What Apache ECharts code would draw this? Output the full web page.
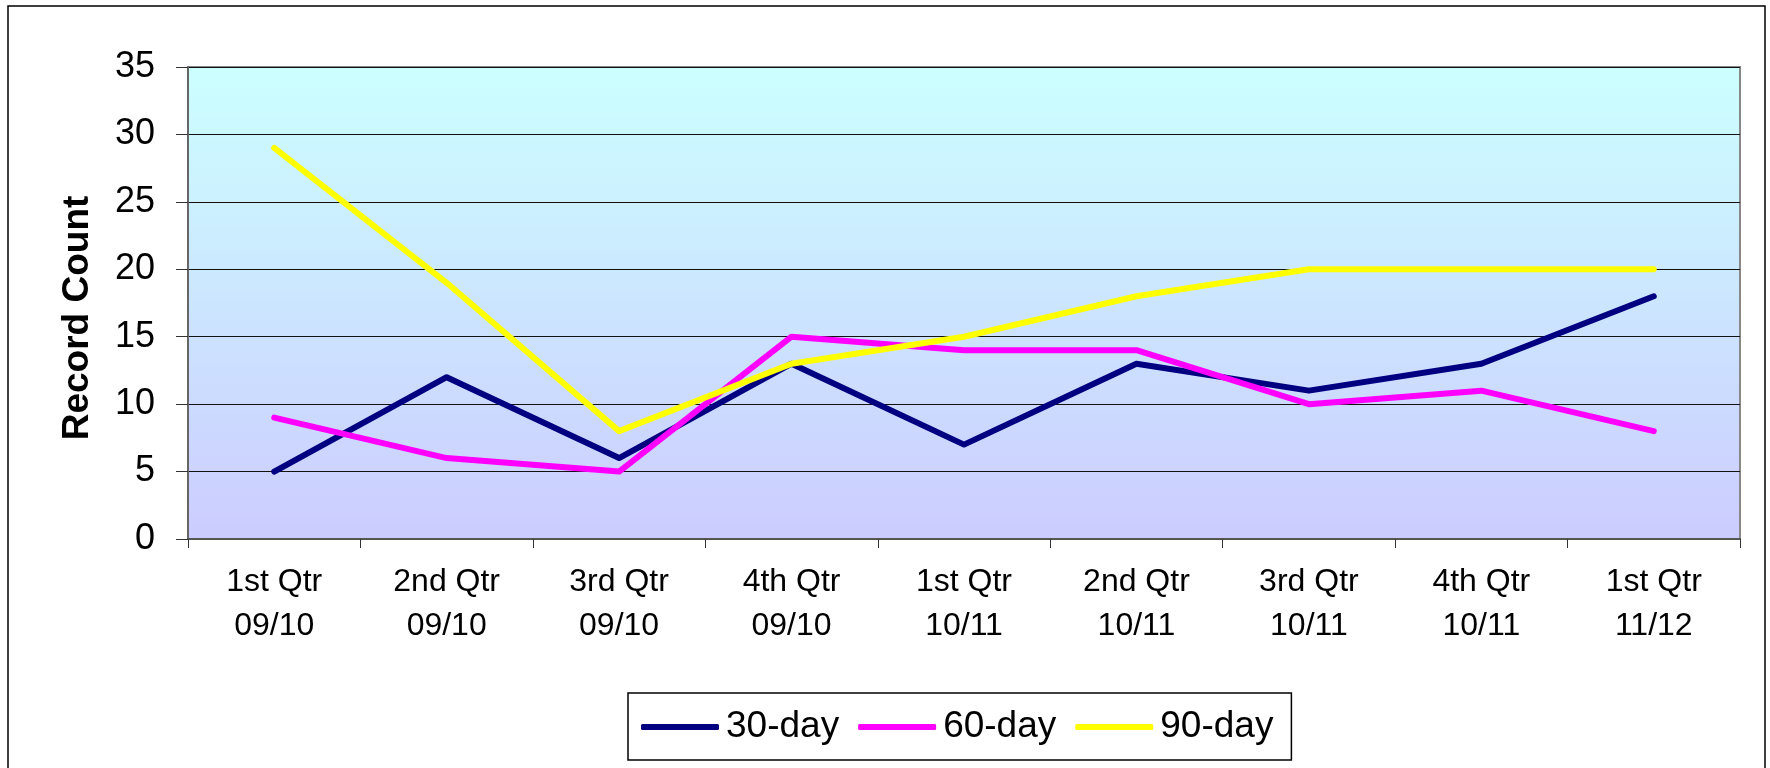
<!DOCTYPE html>
<html>
<head>
<meta charset="utf-8">
<title>Record Count by Quarter</title>
<script src="https://cdn.jsdelivr.net/npm/echarts@6/dist/echarts.min.js"></script>
<style>
  html, body { margin: 0; padding: 0; background: #ffffff; }
  #chart { width: 1770px; height: 768px; }
</style>
</head>
<body>
<div id="chart"></div>
<script>
// Quarter labels (two lines each)
const quarters = [
  '1st Qtr\n09/10', '2nd Qtr\n09/10', '3rd Qtr\n09/10', '4th Qtr\n09/10',
  '1st Qtr\n10/11', '2nd Qtr\n10/11', '3rd Qtr\n10/11', '4th Qtr\n10/11',
  '1st Qtr\n11/12'
];

// Record counts per aging bucket
const day30 = [5, 12, 6, 13, 7, 13, 11, 13, 18];
const day60 = [9, 6, 5, 15, 14, 14, 10, 11, 8];
const day90 = [29, 19, 8, 13, 15, 18, 20, 20, 20];

const seriesNames = ['30-day', '60-day', '90-day'];
const seriesColors = ['#000080', '#FF00FF', '#FFFF00'];

const FONT = '"Liberation Sans", Arial, sans-serif';

const chart = echarts.init(document.getElementById('chart'), null, { renderer: 'canvas' });

function lineSeries(name, data, color) {
  return {
    name: name,
    type: 'line',
    data: data,
    symbol: 'none',
    showSymbol: false,
    smooth: false,
    animation: false,
    lineStyle: { color: color, width: 6, cap: 'round', join: 'round' },
    itemStyle: { color: color },
    emphasis: { disabled: true }
  };
}

chart.setOption({
  animation: false,
  textStyle: { fontFamily: FONT },
  graphic: [{
    type: 'rect',
    silent: true,
    z: -10,
    shape: { x: 8, y: 6, width: 1757, height: 800 },
    style: { fill: 'none', stroke: '#000', lineWidth: 1.5 }
  }],
  grid: {
    left: 188, top: 67, right: 30, bottom: 229,
    show: true,
    borderColor: '#888',
    borderWidth: 2,
    backgroundColor: {
      type: 'linear', x: 0, y: 0, x2: 0, y2: 1,
      colorStops: [
        { offset: 0, color: '#CCFFFF' },
        { offset: 1, color: '#CCCCFF' }
      ]
    }
  },
  legend: {
    data: seriesNames,
    left: 628, top: 693,
    orient: 'horizontal',
    icon: 'roundRect',
    padding: [13, 18, 12, 13],
    itemGap: 19,
    itemWidth: 78,
    itemHeight: 6,
    borderColor: '#000',
    borderWidth: 1.5,
    backgroundColor: '#fff',
    selectedMode: false,
    itemStyle: { borderWidth: 0 },
    textStyle: { fontSize: 37, lineHeight: 42, color: '#000', fontFamily: FONT, padding: [0, 0, 0, 2] }
  },
  xAxis: {
    type: 'category',
    data: quarters,
    boundaryGap: true,
    axisLine: { show: true, lineStyle: { color: '#555', width: 2 } },
    axisTick: { show: true, inside: false, length: 9, alignWithLabel: false, lineStyle: { color: '#333', width: 1 } },
    axisLabel: { fontSize: 32, color: '#000', lineHeight: 44, margin: 21, fontFamily: FONT, interval: 0 },
    splitLine: { show: false }
  },
  yAxis: {
    type: 'value',
    min: 0, max: 35, interval: 5,
    name: 'Record Count',
    nameLocation: 'middle',
    nameGap: 92,
    nameRotate: 90,
    nameTextStyle: { fontSize: 37, fontWeight: 'bold', color: '#000', fontFamily: FONT, padding: [0, 30, 0, 0] },
    axisLine: { show: true, lineStyle: { color: '#666', width: 2 } },
    axisTick: { show: true, inside: false, length: 12, lineStyle: { color: '#333', width: 1 } },
    axisLabel: { fontSize: 36, color: '#000', margin: 33, fontFamily: FONT },
    splitLine: { show: true, lineStyle: { color: '#111', width: 1 } }
  },
  series: [
    lineSeries(seriesNames[0], day30, seriesColors[0]),
    lineSeries(seriesNames[1], day60, seriesColors[1]),
    lineSeries(seriesNames[2], day90, seriesColors[2])
  ]
});
</script>
</body>
</html>
